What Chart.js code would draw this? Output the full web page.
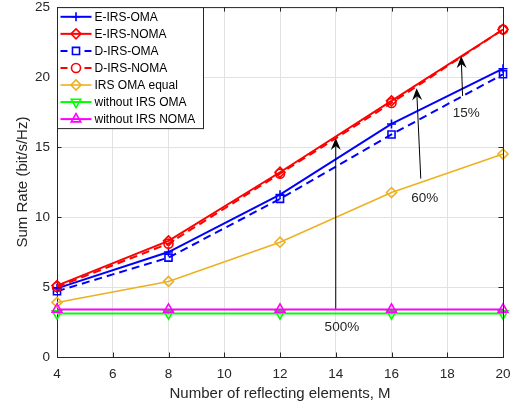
<!DOCTYPE html>
<html>
<head>
<meta charset="utf-8">
<script src="https://cdn.jsdelivr.net/npm/chart.js@4/dist/chart.umd.min.js"></script>
<style>
html,body{margin:0;padding:0;background:#fff;}
canvas{display:block;}
</style>
</head>
<body>
<canvas id="c" width="515" height="409"></canvas>
<script>
// ---- data ----
const M = [4, 8, 12, 16, 20];
const eIrsOma   = [4.9, 7.5, 11.6, 16.65, 20.6];
const eIrsNoma  = [5.1, 8.3, 13.2, 18.3, 23.4];
const dIrsOma   = [4.7, 7.1, 11.3, 15.9, 20.2];
const dIrsNoma  = [5.0, 8.1, 13.1, 18.15, 23.4];
const irsOmaEq  = [3.9, 5.4, 8.2, 11.75, 14.5];
const noIrsOma  = [3.1, 3.1, 3.1, 3.1, 3.1];
const noIrsNoma = [3.4, 3.4, 3.4, 3.4, 3.4];
const xTicks = [4, 6, 8, 10, 12, 14, 16, 18, 20];
const yTicks = [0, 5, 10, 15, 20, 25];
const seriesNames = ['E-IRS-OMA','E-IRS-NOMA','D-IRS-OMA','D-IRS-NOMA','IRS OMA equal','without IRS OMA','without IRS NOMA'];
// annotation arrows (data coordinates: [M, rate])
const arrowFrom = [[14, 3.45], [17.05, 12.75], [18.55, 18.65]];
const arrowTo   = [[14, 15.65], [16.9, 19.2], [18.5, 21.5]];
const arrowText = ['500%', '60%', '15%'];
const arrowTextAt = [[14.22, 2.14], [17.19, 11.32], [18.68, 17.38]];

const FONT = "'Liberation Sans', Arial, Helvetica, sans-serif";
const AX = '#262626';

const styles = [
  {color:'#0000ff', dash:[], point:'cross', r:4.5, rot:0, w:2},
  {color:'#ff0000', dash:[], point:'rectRot', r:5, rot:0, w:2},
  {color:'#0000ff', dash:[8,5], point:'rect', r:5, rot:0, w:2},
  {color:'#ff0000', dash:[8,5], point:'circle', r:4.5, rot:0, w:2},
  {color:'#edb120', dash:[], point:'rectRot', r:5, rot:0, w:1.6},
  {color:'#00ff00', dash:[], point:'triangle', r:5.5, rot:180, w:2},
  {color:'#ff00ff', dash:[], point:'triangle', r:5.5, rot:0, w:2}
];
const values = [eIrsOma, eIrsNoma, dIrsOma, dIrsNoma, irsOmaEq, noIrsOma, noIrsNoma];

const datasets = values.map((v, i) => ({
  label: seriesNames[i],
  data: M.map((m, j) => ({x: m, y: v[j]})),
  borderColor: styles[i].color,
  backgroundColor: 'rgba(0,0,0,0)',
  borderWidth: styles[i].w,
  borderDash: styles[i].dash,
  pointStyle: styles[i].point,
  pointRadius: styles[i].r,
  pointRotation: styles[i].rot,
  pointBorderWidth: 1.6,
  pointBorderColor: styles[i].color,
  pointBackgroundColor: 'rgba(0,0,0,0)',
  tension: 0,
  clip: false,
  order: 7 - i
}));

const overlay = {
  id: 'overlay',
  afterDraw(chart) {
    const ctx = chart.ctx;
    const xs = chart.scales.x, ys = chart.scales.y;
    const a = chart.chartArea;
    ctx.save();
    // box top/right
    ctx.strokeStyle = AX; ctx.lineWidth = 1;
    ctx.beginPath();
    ctx.moveTo(a.left, a.top + 0.5); ctx.lineTo(a.right + 0.5, a.top + 0.5);
    ctx.lineTo(a.right + 0.5, a.bottom);
    ctx.stroke();
    // inward ticks
    const tl = 4.5;
    ctx.beginPath();
    xTicks.forEach(t => {
      const px = Math.round(xs.getPixelForValue(t)) + 0.5;
      ctx.moveTo(px, a.bottom); ctx.lineTo(px, a.bottom - tl);
      ctx.moveTo(px, a.top); ctx.lineTo(px, a.top + tl);
    });
    yTicks.forEach(t => {
      const py = Math.round(ys.getPixelForValue(t)) + 0.5;
      ctx.moveTo(a.left, py); ctx.lineTo(a.left + tl, py);
      ctx.moveTo(a.right, py); ctx.lineTo(a.right - tl, py);
    });
    ctx.stroke();

    // arrows
    ctx.strokeStyle = '#000'; ctx.fillStyle = '#000'; ctx.lineWidth = 1;
    arrowFrom.forEach((f, i) => {
      const x0 = xs.getPixelForValue(f[0]), y0 = ys.getPixelForValue(f[1]);
      const x1 = xs.getPixelForValue(arrowTo[i][0]), y1 = ys.getPixelForValue(arrowTo[i][1]);
      const ang = Math.atan2(y1 - y0, x1 - x0);
      const L = 12, W = 5, N = 8;
      const ux = Math.cos(ang), uy = Math.sin(ang);
      const nx = -uy, ny = ux;
      ctx.beginPath();
      ctx.moveTo(x0, y0); ctx.lineTo(x1 - ux * N, y1 - uy * N);
      ctx.stroke();
      ctx.beginPath();
      ctx.moveTo(x1, y1);
      ctx.lineTo(x1 - ux * L + nx * W, y1 - uy * L + ny * W);
      ctx.lineTo(x1 - ux * N, y1 - uy * N);
      ctx.lineTo(x1 - ux * L - nx * W, y1 - uy * L - ny * W);
      ctx.closePath();
      ctx.fill();
      // text
      ctx.font = '13.5px ' + FONT;
      ctx.fillStyle = AX; ctx.textAlign = 'center'; ctx.textBaseline = 'middle';
      ctx.fillText(arrowText[i], xs.getPixelForValue(arrowTextAt[i][0]), ys.getPixelForValue(arrowTextAt[i][1]));
      ctx.fillStyle = '#000';
    });

    // legend
    const bx = a.left + 0.5, by = a.top + 0.5, bw = 146, bh = 121;
    ctx.fillStyle = '#fff';
    ctx.fillRect(bx, by, bw, bh);
    ctx.strokeStyle = AX; ctx.lineWidth = 1;
    ctx.strokeRect(bx, by, bw, bh);
    ctx.font = '12px ' + FONT;
    ctx.textAlign = 'left'; ctx.textBaseline = 'middle';
    seriesNames.forEach((name, i) => {
      const y = a.top + 9.7 + i * 17.05;
      const s = styles[i];
      ctx.strokeStyle = s.color; ctx.lineWidth = s.w;
      ctx.setLineDash(s.dash.length ? [7, 17] : []);
      ctx.beginPath();
      ctx.moveTo(bx + 3, y); ctx.lineTo(bx + 34, y);
      ctx.stroke();
      ctx.setLineDash([]);
      ctx.lineWidth = 1.6;
      ctx.fillStyle = 'rgba(0,0,0,0)';
      Chart.helpers.drawPoint(ctx, {pointStyle: s.point, radius: s.r, rotation: s.rot, borderWidth: 1.6}, bx + 18.5, y);
      ctx.fillStyle = '#000';
      ctx.fillText(name, bx + 37, y + 0.5);
    });
    ctx.restore();
  }
};

new Chart(document.getElementById('c'), {
  type: 'line',
  data: { datasets },
  options: {
    responsive: false,
    devicePixelRatio: 1,
    animation: false,
    events: [],
    layout: { padding: { top: 6, right: 12, left: 0, bottom: 0 } },
    plugins: { legend: { display: false }, tooltip: { enabled: false } },
    scales: {
      x: {
        type: 'linear', min: 4, max: 20,
        afterFit(s) { s.height = 52; s.paddingLeft = 0; s.paddingRight = 0; },
        afterBuildTicks(s) { s.ticks = xTicks.map(v => ({value: v})); },
        grid: { color: '#e2e2e2', drawTicks: false, lineWidth: 1 },
        border: { color: AX, width: 1 },
        ticks: { color: AX, padding: 9, font: { family: FONT, size: 13.5 }, maxRotation: 0 },
        title: { display: true, text: 'Number of reflecting elements, M', color: AX,
                 font: { family: FONT, size: 15 }, padding: { top: 6, bottom: 6 } }
      },
      y: {
        type: 'linear', min: 0, max: 25,
        afterFit(s) { s.width = 57; s.paddingTop = 0; s.paddingBottom = 0; },
        afterBuildTicks(s) { s.ticks = yTicks.map(v => ({value: v})); },
        grid: { color: '#e2e2e2', drawTicks: false, lineWidth: 1 },
        border: { color: AX, width: 1 },
        ticks: { color: AX, padding: 7, font: { family: FONT, size: 13.5 } },
        title: { display: true, text: 'Sum Rate (bit/s/Hz)', color: AX,
                 font: { family: FONT, size: 15 }, padding: { top: 14, bottom: 14 } }
      }
    }
  },
  plugins: [overlay]
});
</script>
</body>
</html>
